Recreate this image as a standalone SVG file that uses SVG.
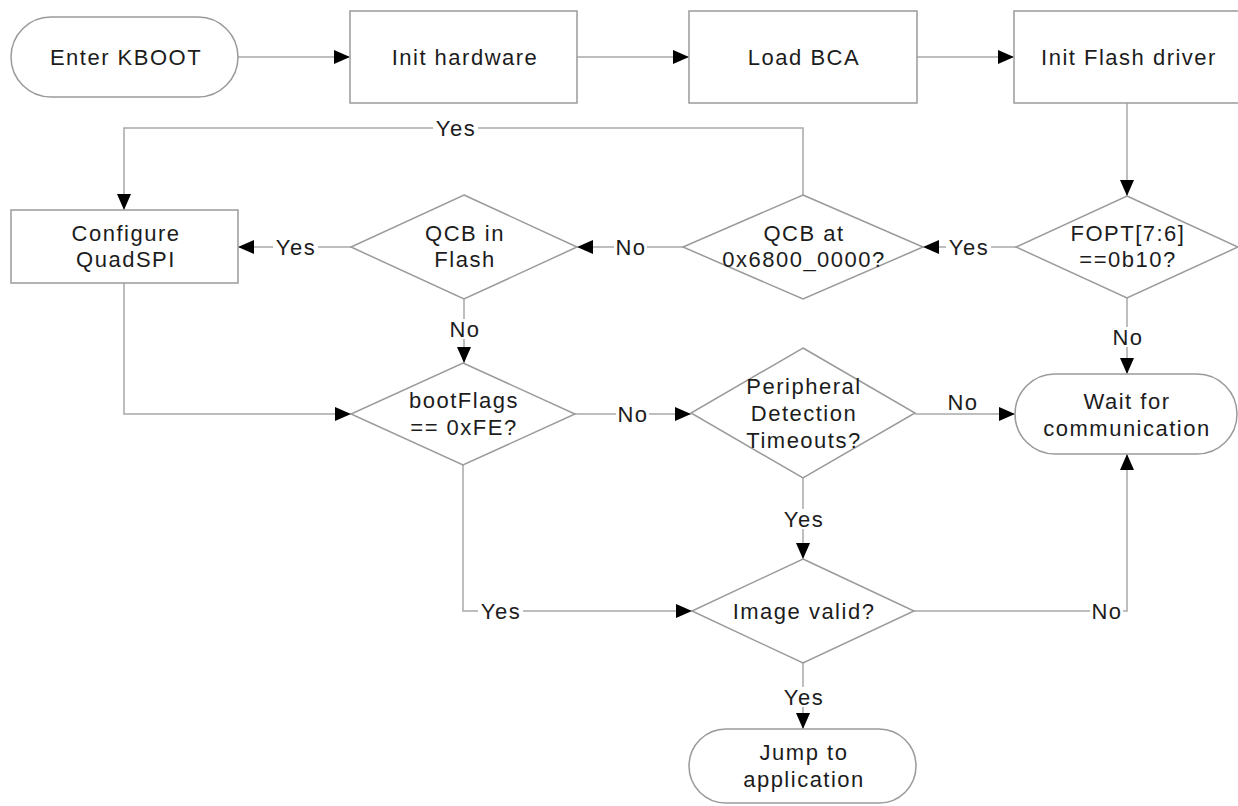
<svg xmlns="http://www.w3.org/2000/svg" width="1238" height="806" viewBox="0 0 1238 806">
<defs>
<style>
.shape{fill:#fff;stroke:#9a9a9a;stroke-width:1.5}
.conn{fill:none;stroke:#a8a8a8;stroke-width:1.5}
.t{font-family:"Liberation Sans",Arial,sans-serif;font-size:22px;fill:#1c1c1c;text-anchor:middle;letter-spacing:1.5px}
.bg{fill:#fff}
</style>
<marker id="ah" markerUnits="userSpaceOnUse" markerWidth="17" markerHeight="15" refX="16" refY="7" orient="auto" viewBox="0 0 17 15">
<path d="M0,0 L16,7 L0,14 z" fill="#000"/>
</marker>
</defs>
<rect width="1238" height="806" fill="#fff"/>

<g id="connectors">
<path class="conn" d="M238,57 H350" marker-end="url(#ah)"/>
<path class="conn" d="M577,57 H689" marker-end="url(#ah)"/>
<path class="conn" d="M917,57 H1014" marker-end="url(#ah)"/>
<path class="conn" d="M1127,103 V196" marker-end="url(#ah)"/>
<path class="conn" d="M1016,247 H923" marker-end="url(#ah)"/>
<path class="conn" d="M683,247 H577" marker-end="url(#ah)"/>
<path class="conn" d="M803,195 V128 H124 V210" marker-end="url(#ah)"/>
<path class="conn" d="M351,247 H238" marker-end="url(#ah)"/>
<path class="conn" d="M464,299 V363" marker-end="url(#ah)"/>
<path class="conn" d="M124,283 V414 H351" marker-end="url(#ah)"/>
<path class="conn" d="M575,414 H691" marker-end="url(#ah)"/>
<path class="conn" d="M915,414 H1015" marker-end="url(#ah)"/>
<path class="conn" d="M1127,298 V374" marker-end="url(#ah)"/>
<path class="conn" d="M803,478 V559" marker-end="url(#ah)"/>
<path class="conn" d="M463,465 V611 H692" marker-end="url(#ah)"/>
<path class="conn" d="M914,611 H1127 V454" marker-end="url(#ah)"/>
<path class="conn" d="M803,663 V729" marker-end="url(#ah)"/>

<rect class="bg" x="433" y="118" width="45" height="20"/>
<text class="t" x="456" y="136">Yes</text>
<rect class="bg" x="273" y="237" width="45" height="20"/>
<text class="t" x="296" y="255">Yes</text>
<rect class="bg" x="614" y="237" width="33" height="20"/>
<text class="t" x="631" y="255">No</text>
<rect class="bg" x="946" y="237" width="45" height="20"/>
<text class="t" x="969" y="255">Yes</text>
<rect class="bg" x="448" y="319" width="33" height="20"/>
<text class="t" x="465" y="337">No</text>
<rect class="bg" x="616" y="404" width="33" height="20"/>
<text class="t" x="633" y="422">No</text>
<text class="t" x="963" y="410">No</text>
<rect class="bg" x="1111" y="327" width="33" height="20"/>
<text class="t" x="1128" y="345">No</text>
<rect class="bg" x="781" y="509" width="45" height="20"/>
<text class="t" x="804" y="527">Yes</text>
<rect class="bg" x="478" y="601" width="45" height="20"/>
<text class="t" x="501" y="619">Yes</text>
<rect class="bg" x="1090" y="601" width="33" height="20"/>
<text class="t" x="1107" y="619">No</text>
<rect class="bg" x="781" y="687" width="45" height="20"/>
<text class="t" x="804" y="705">Yes</text>
</g>

<g id="enter-kboot">
<rect class="shape" x="11" y="17" width="227" height="80" rx="40" ry="40"/>
<text class="t" x="126" y="65">Enter KBOOT</text>
</g>
<g id="init-hardware">
<rect class="shape" x="350" y="11" width="227" height="92"/>
<text class="t" x="465" y="65">Init hardware</text>
</g>
<g id="load-bca">
<rect class="shape" x="689" y="11" width="228" height="92"/>
<text class="t" x="804" y="65">Load BCA</text>
</g>
<g id="init-flash-driver">
<rect class="shape" x="1014" y="11" width="230" height="92"/>
<text class="t" x="1129" y="65">Init Flash driver</text>
</g>
<g id="configure-quadspi">
<rect class="shape" x="11" y="210" width="227" height="73"/>
<text class="t" x="126" y="241">Configure</text>
<text class="t" x="126" y="267">QuadSPI</text>
</g>
<g id="qcb-in-flash">
<polygon class="shape" points="464,195 577,247 464,299 351,247"/>
<text class="t" x="465" y="241">QCB in</text>
<text class="t" x="465" y="267">Flash</text>
</g>
<g id="qcb-at">
<polygon class="shape" points="803,195 923,247 803,299 683,247"/>
<text class="t" x="804" y="241">QCB at</text>
<text class="t" x="804" y="267">0x6800_0000?</text>
</g>
<g id="fopt">
<polygon class="shape" points="1127,196 1238,247 1127,298 1016,247"/>
<text class="t" x="1128" y="241">FOPT[7:6]</text>
<text class="t" x="1128" y="267">==0b10?</text>
</g>
<g id="bootflags">
<polygon class="shape" points="463,363 575,414 463,465 351,414"/>
<text class="t" x="464" y="408">bootFlags</text>
<text class="t" x="464" y="435">== 0xFE?</text>
</g>
<g id="peripheral-detection">
<polygon class="shape" points="803,348 915,413 803,478 691,413"/>
<text class="t" x="804" y="394">Peripheral</text>
<text class="t" x="804" y="421">Detection</text>
<text class="t" x="804" y="448">Timeouts?</text>
</g>
<g id="wait-for-communication">
<rect class="shape" x="1015" y="374" width="222" height="80" rx="40" ry="40"/>
<text class="t" x="1127" y="409">Wait for</text>
<text class="t" x="1127" y="436">communication</text>
</g>
<g id="image-valid">
<polygon class="shape" points="803,559 914,611 803,663 692,611"/>
<text class="t" x="804" y="619">Image valid?</text>
</g>
<g id="jump-to-application">
<rect class="shape" x="689" y="729" width="227" height="74" rx="37" ry="37"/>
<text class="t" x="804" y="760">Jump to</text>
<text class="t" x="804" y="787">application</text>
</g>
</svg>
